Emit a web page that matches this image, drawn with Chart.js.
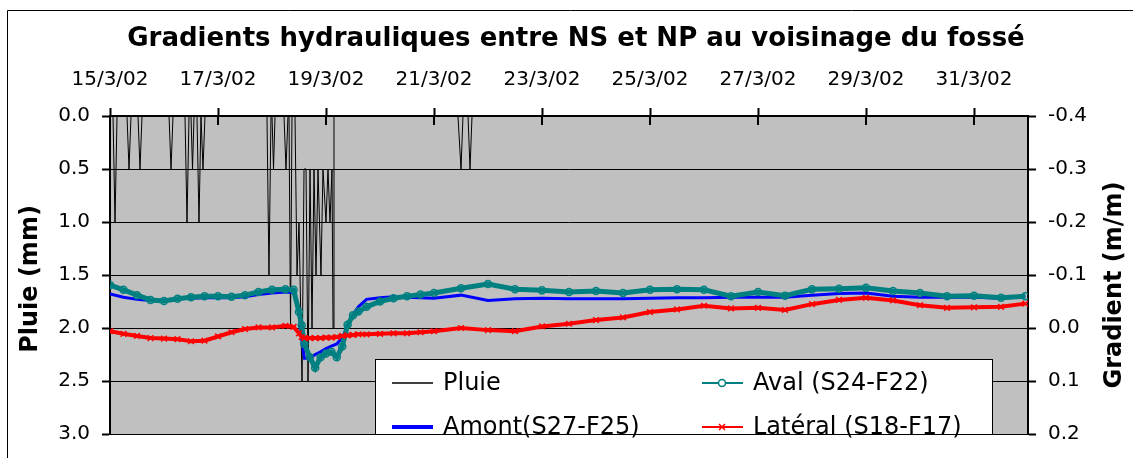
<!DOCTYPE html>
<html lang="fr">
<head>
<meta charset="utf-8">
<title>Gradients hydrauliques</title>
<script src="https://cdn.jsdelivr.net/npm/chart.js@4.4.1/dist/chart.umd.min.js"></script>
<style>
  html, body { margin: 0; padding: 0; background: #fff; }
  #wrap { width: 1133px; height: 458px; }
</style>
</head>
<body>
<div id="wrap"><canvas id="gradChart" width="1133" height="458"></canvas></div>
<script>
// x values are days since 15/3/02 00:00
const tickDates = ['15/3/02', '17/3/02', '19/3/02', '21/3/02', '23/3/02', '25/3/02', '27/3/02', '29/3/02', '31/3/02'];

// rain gauge record (mm)
const rainDays = [0, 0.056, 0.093, 0.13, 0.315, 0.352, 0.389, 0.519, 0.556, 0.593,
  1.093, 1.13, 1.167, 1.389, 1.426, 1.463, 1.5, 1.528, 1.556, 1.611, 1.648, 1.685, 1.722, 1.759,
  2.907, 2.944, 2.981, 3.0, 3.028, 3.056, 3.222, 3.259, 3.296, 3.315, 3.343, 3.37, 3.426, 3.463,
  3.5, 3.556, 3.593, 3.63, 3.667, 3.704, 3.741, 3.778, 3.815, 3.852, 3.907, 3.944, 4.0, 4.037,
  4.074, 4.111, 4.13, 4.148, 6.444, 6.5, 6.537, 6.63, 6.667, 6.704, 17];
const rainMm = [0, 0, 1.0, 0, 0, 0.5, 0, 0, 0.5, 0,
  0, 0.5, 0, 0, 1.0, 0, 0, 0.5, 0, 0, 1.0, 0, 0.5, 0,
  0, 1.5, 0, 0, 0.5, 0, 0, 0.5, 0, 0, 2.0, 0, 0, 1.5,
  1.0, 2.5, 0.5, 0.5, 2.5, 0.5, 2.0, 0.5, 1.5, 0.5, 1.5, 0.5, 1.0, 0.5,
  1.0, 0.5, 2.0, 0, 0, 0.5, 0, 0, 0.5, 0, 0];

// piezometer gradients (m/m)
const days = [0, 0.25, 0.5, 0.75, 1.0, 1.25, 1.5, 1.75, 2.0, 2.25, 2.5, 2.75, 3.0, 3.25, 3.4,
  3.5, 3.55, 3.6, 3.7, 3.8, 3.9, 4.0, 4.1, 4.2, 4.3, 4.4, 4.5, 4.6, 4.75, 5.0, 5.25, 5.5, 5.75,
  6.0, 6.5, 7.0, 7.5, 8.0, 8.5, 9.0, 9.5, 10.0, 10.5, 11.0, 11.5, 12.0, 12.5, 13.0, 13.5, 14.0,
  14.5, 15.0, 15.5, 16.0, 16.5, 16.95];
const amont = [-0.064, -0.058, -0.054, -0.052, -0.053, -0.055, -0.056, -0.057, -0.057, -0.057,
  -0.059, -0.063, -0.066, -0.068, -0.067, -0.030, 0.020, 0.057, 0.057, 0.050, 0.045, 0.039,
  0.034, 0.030, 0.018, -0.003, -0.025, -0.040, -0.054, -0.057, -0.059, -0.058, -0.057, -0.056,
  -0.062, -0.052, -0.055, -0.056, -0.055, -0.055, -0.055, -0.056, -0.057, -0.057, -0.058,
  -0.058, -0.058, -0.062, -0.065, -0.066, -0.060, -0.058, -0.058, -0.058, -0.056, -0.060];
const aval = [-0.081, -0.072, -0.062, -0.053, -0.051, -0.055, -0.058, -0.060, -0.060, -0.059,
  -0.062, -0.068, -0.072, -0.073, -0.072, -0.030, -0.005, 0.030, 0.055, 0.075, 0.055, 0.048,
  0.045, 0.055, 0.035, -0.006, -0.024, -0.031, -0.040, -0.050, -0.056, -0.060, -0.063, -0.066,
  -0.075, -0.083, -0.073, -0.071, -0.068, -0.070, -0.066, -0.072, -0.073, -0.072, -0.060,
  -0.068, -0.061, -0.073, -0.074, -0.076, -0.070, -0.066, -0.060, -0.061, -0.057, -0.060];
const lateral = [0.006, 0.011, 0.015, 0.019, 0.020, 0.021, 0.025, 0.024, 0.016, 0.008,
  0.002, -0.001, -0.001, -0.004, -0.002, 0.010, 0.017, 0.019, 0.019, 0.019, 0.019, 0.018,
  0.018, 0.017, 0.015, 0.014, 0.013, 0.012, 0.012, 0.011, 0.010, 0.010, 0.008, 0.006,
  0.000, 0.004, 0.006, -0.003, -0.008, -0.015, -0.020, -0.030, -0.035, -0.042, -0.037,
  -0.038, -0.034, -0.045, -0.053, -0.057, -0.052, -0.043, -0.038, -0.039, -0.040, -0.046];

const FONT = "'DejaVu Sans', Verdana, sans-serif";

// line widths of the legend samples
const legendWidths = [1.5, 4, 2, 2];

function toPoints(xs, ys) {
  return xs.map((x, i) => ({ x: x, y: ys[i] }));
}

// grey plot area, inner ticks, titles, boxed legend and outer frame
const decor = {
  id: 'decor',
  beforeDraw(chart) {
    const { ctx, chartArea: a } = chart;
    ctx.save();
    ctx.fillStyle = '#c0c0c0';
    ctx.fillRect(a.left, a.top, a.right - a.left, a.bottom - a.top);
    ctx.restore();
  },
  afterDraw(chart) {
    const { ctx, chartArea: a } = chart;
    const xs = chart.scales.x;
    ctx.save();

    // tick marks on the top axis cross into the plot
    ctx.strokeStyle = '#000';
    ctx.lineWidth = 2;
    xs.ticks.forEach(t => {
      const px = Math.round(xs.getPixelForValue(t.value));
      ctx.beginPath();
      ctx.moveTo(px, a.top);
      ctx.lineTo(px, a.top + 9);
      ctx.stroke();
    });

    // titles
    ctx.fillStyle = '#000';
    ctx.textAlign = 'center';
    ctx.textBaseline = 'alphabetic';
    ctx.font = 'bold 26px ' + FONT;
    ctx.fillText('Gradients hydrauliques entre NS et NP au voisinage du fossé', 576, 46);

    ctx.textBaseline = 'middle';
    ctx.font = 'bold 24px ' + FONT;
    ctx.save();
    ctx.translate(31, 279);
    ctx.rotate(-Math.PI / 2);
    ctx.fillText('Pluie (mm)', 0, 0);
    ctx.restore();
    ctx.save();
    ctx.translate(1115, 285);
    ctx.rotate(-Math.PI / 2);
    ctx.fillText('Gradient (m/m)', 0, 0);
    ctx.restore();

    // legend box
    const box = { left: 375, top: 359, right: 993, bottom: a.bottom };
    ctx.fillStyle = '#fff';
    ctx.fillRect(box.left, box.top, box.right - box.left, box.bottom - box.top);
    ctx.strokeStyle = '#000';
    ctx.lineWidth = 1;
    ctx.strokeRect(box.left + 0.5, box.top + 0.5, box.right - box.left - 1, box.bottom - box.top);

    const cols = [392, 702];
    const rows = [383, 427];
    ctx.font = '24px ' + FONT;
    ctx.textAlign = 'left';
    ctx.textBaseline = 'middle';
    chart.data.datasets.forEach((ds, i) => {
      const x0 = cols[Math.floor(i / 2)];
      const y = rows[i % 2];
      ctx.strokeStyle = ds.borderColor;
      ctx.lineWidth = legendWidths[i];
      ctx.beginPath();
      ctx.moveTo(x0, y);
      ctx.lineTo(x0 + 41, y);
      ctx.stroke();
      const cx = x0 + 20;
      ctx.lineWidth = 1.5;
      if (ds.pointStyle === 'circle') {
        ctx.fillStyle = '#fff';
        ctx.beginPath();
        ctx.arc(cx, y, 3.5, 0, Math.PI * 2);
        ctx.fill();
        ctx.stroke();
      } else if (ds.pointStyle === 'crossRot') {
        ctx.beginPath();
        ctx.moveTo(cx - 3, y - 3); ctx.lineTo(cx + 3, y + 3);
        ctx.moveTo(cx - 3, y + 3); ctx.lineTo(cx + 3, y - 3);
        ctx.stroke();
      }
      ctx.fillStyle = '#000';
      ctx.fillText(ds.label, x0 + 51, y + 1);
    });

    // outer frame
    ctx.strokeStyle = '#000';
    ctx.lineWidth = 1;
    ctx.beginPath();
    ctx.moveTo(7.5, chart.height);
    ctx.lineTo(7.5, 10.5);
    ctx.lineTo(chart.width, 10.5);
    ctx.stroke();
    ctx.restore();
  }
};

const tickFont = { family: FONT, size: 20 };

new Chart(document.getElementById('gradChart').getContext('2d'), {
  type: 'line',
  data: {
    datasets: [
      {
        label: 'Pluie',
        data: toPoints(rainDays, rainMm),
        yAxisID: 'rain',
        borderColor: '#000000',
        borderWidth: 1,
        pointRadius: 0,
        order: 3
      },
      {
        label: 'Amont(S27-F25)',
        data: toPoints(days, amont),
        yAxisID: 'grad',
        borderColor: '#0000ff',
        borderWidth: 3,
        pointRadius: 0,
        order: 2
      },
      {
        label: 'Aval (S24-F22)',
        data: toPoints(days, aval),
        yAxisID: 'grad',
        borderColor: '#008080',
        borderWidth: 5,
        pointStyle: 'circle',
        pointRadius: 3.5,
        pointBorderWidth: 1.5,
        pointBorderColor: '#008080',
        pointBackgroundColor: 'rgba(0,0,0,0)',
        order: 1
      },
      {
        label: 'Latéral (S18-F17)',
        data: toPoints(days, lateral),
        yAxisID: 'grad',
        borderColor: '#ff0000',
        borderWidth: 4,
        pointStyle: 'crossRot',
        pointRadius: 4,
        pointBorderWidth: 1.5,
        pointBorderColor: '#ff0000',
        order: 0
      }
    ]
  },
  options: {
    responsive: false,
    animation: false,
    layout: { padding: { top: 0, left: 0, right: 0, bottom: 17 } },
    plugins: {
      legend: { display: false },
      tooltip: { enabled: false }
    },
    scales: {
      x: {
        type: 'linear',
        position: 'top',
        min: 0,
        max: 17,
        afterFit: s => { s.height = 116; },
        ticks: {
          stepSize: 2,
          includeBounds: false,
          autoSkip: false,
          maxRotation: 0,
          padding: 16,
          color: '#000',
          font: tickFont,
          callback: v => tickDates[Math.round(v / 2)]
        },
        grid: { drawOnChartArea: false, tickLength: 8, tickWidth: 2, color: '#000' },
        border: { color: '#000', width: 2 }
      },
      rain: {
        type: 'linear',
        position: 'left',
        reverse: true,
        min: 0,
        max: 3,
        afterFit: s => { s.width = 110; },
        ticks: {
          stepSize: 0.5,
          padding: 12,
          color: '#000',
          font: tickFont,
          callback: v => v.toFixed(1)
        },
        grid: { color: '#000', lineWidth: 1, tickLength: 8, tickWidth: 2 },
        border: { color: '#000', width: 2 }
      },
      grad: {
        type: 'linear',
        position: 'right',
        reverse: true,
        min: -0.4,
        max: 0.2,
        afterFit: s => { s.width = 105; },
        ticks: {
          stepSize: 0.1,
          padding: 12,
          color: '#000',
          font: tickFont,
          callback: v => (Math.abs(v) < 1e-9 ? 0 : v).toFixed(1)
        },
        grid: { drawOnChartArea: false, color: '#000', tickLength: 8, tickWidth: 2 },
        border: { color: '#000', width: 2 }
      }
    }
  },
  plugins: [decor]
});
</script>
</body>
</html>
